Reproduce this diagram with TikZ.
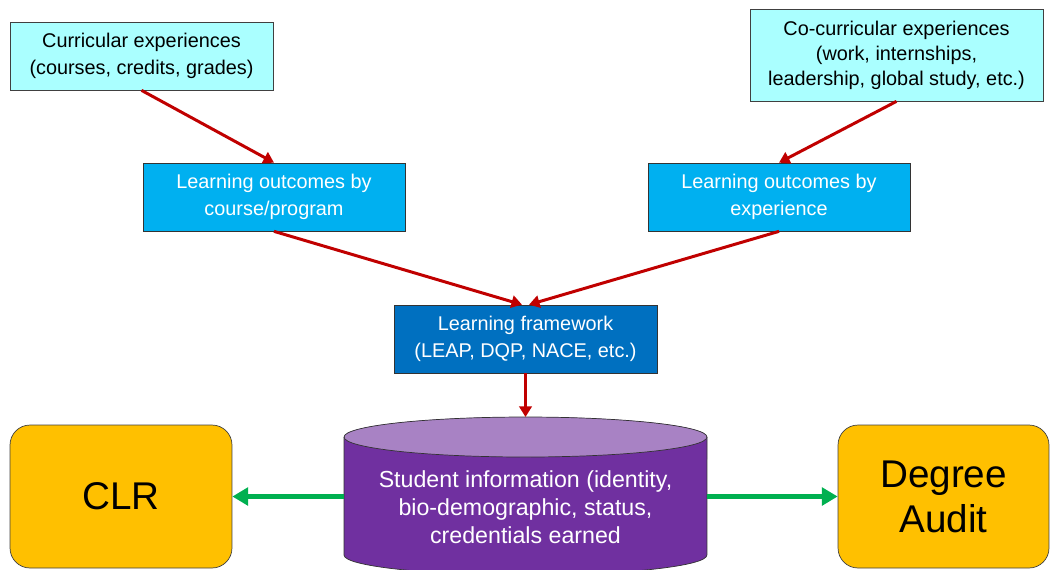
\documentclass[tikz,border=0pt]{standalone}
\usepackage{fontspec}
\setmainfont{Liberation Sans}
\usetikzlibrary{arrows.meta}

\definecolor{expcyan}{RGB}{170,255,255}
\definecolor{locyan}{RGB}{0,176,240}
\definecolor{fwblue}{RGB}{0,112,192}
\definecolor{sispurple}{RGB}{112,48,160}
\definecolor{sislilac}{RGB}{168,130,196}
\definecolor{recgold}{RGB}{255,192,0}
\definecolor{flowred}{RGB}{192,0,0}
\definecolor{flowgreen}{RGB}{0,176,80}

\tikzset{
  smalltext/.style={font=\fontsize{11.3}{15.4}\selectfont, align=center},
  expbox/.style={smalltext, draw=black!75, fill=expcyan, inner sep=0pt},
  lobox/.style={smalltext, draw=black!80, fill=locyan, text=white, inner sep=0pt,
    minimum width=5.24cm, minimum height=1.36cm},
  fwbox/.style={smalltext, draw=black!80, fill=fwblue, text=white, inner sep=0pt,
    minimum width=5.26cm, minimum height=1.36cm},
  recbox/.style={draw=black!75, fill=recgold, rounded corners=0.4cm, align=center,
    font=\fontsize{22}{25.6}\selectfont, minimum height=2.86cm},
  redflow/.style={draw=flowred, line width=1.7pt, -{Triangle[length=6pt,width=7pt]}},
  greenflow/.style={draw=flowgreen, line width=2.3pt, -{Triangle[length=9pt,width=10pt]}}
}

\begin{document}
\begin{tikzpicture}[x=0.02cm,y=-0.02cm]
\clip (0,0) rectangle (1050,569);

% experiences
\node[expbox, minimum width=5.26cm, minimum height=1.36cm] (cur) at (141.5,56)
  {Curricular experiences\\(courses, credits, grades)};
\node[expbox, font=\fontsize{11.3}{14.3}\selectfont, minimum width=5.86cm, minimum height=1.84cm] (cocur) at (896.5,55)
  {Co-curricular experiences\\(work, internships,\\leadership, global study, etc.)};

% outcomes
\node[lobox] (locourse) at (274,197) {Learning outcomes by\\course/program};
\node[lobox] (loexp) at (779,197) {Learning outcomes by\\experience};

\node[fwbox] (fw) at (525.5,339) {Learning framework\\(LEAP, DQP, NACE, etc.)};

% student information store
\fill[sispurple] (344,437) -- (344,555)
  arc[start angle=180,end angle=360,x radius=3.63cm,y radius=0.4cm]
  -- (707,437) arc[start angle=0,end angle=180,x radius=3.63cm,y radius=0.4cm] -- cycle;
\draw[black!80, thin] (344,437) -- (344,555)
  arc[start angle=180,end angle=360,x radius=3.63cm,y radius=0.4cm] -- (707,437);
\filldraw[fill=sislilac, draw=black!80, thin] (525.5,437) ellipse[x radius=3.63cm, y radius=0.4cm];
\node[font=\fontsize{13.2}{16}\selectfont, align=center, text=white] (sis) at (525.5,507)
  {Student information (identity,\\bio-demographic, status,\\credentials earned};
\coordinate (sistop) at (525.5,417);
\coordinate (sisleft) at (344,496.5);
\coordinate (sisright) at (707,496.5);

% records
\node[recbox, minimum width=4.44cm] (clr) at (121,496.5) {CLR};
\node[recbox, minimum width=4.22cm] (audit) at (943.5,496.5) {Degree\\Audit};

% flows
\draw[redflow] (cur.south) -- (locourse.north);
\draw[redflow] (cocur.south) -- (loexp.north);
\draw[redflow] (locourse.south) -- ([xshift=-2pt]fw.north);
\draw[redflow] (loexp.south) -- ([xshift=2pt]fw.north);
\draw[redflow] (fw.south) -- (sistop);
\draw[greenflow] (sisleft) -- (clr.east);
\draw[greenflow] (sisright) -- (audit.west);
\end{tikzpicture}
\end{document}
